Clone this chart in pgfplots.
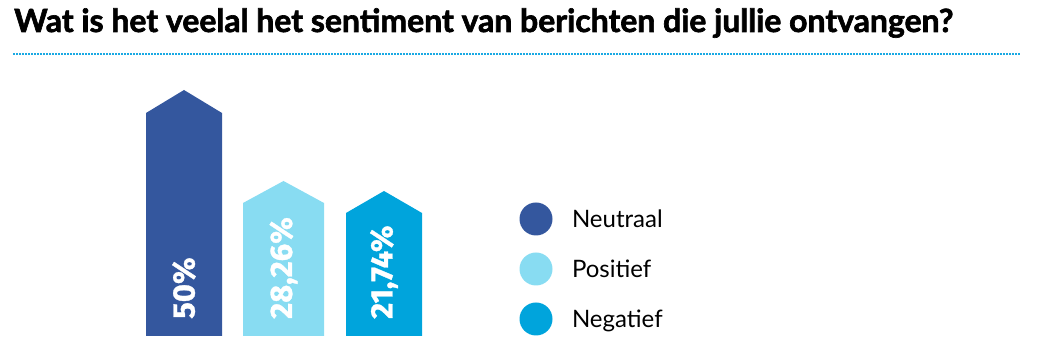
\documentclass[border=0pt]{standalone}
\usepackage{pgfplots}
\pgfplotsset{compat=1.18}
\usepackage{fontspec}
\setmainfont{Lato}
\newfontfamily\labfont{Fira Sans}
\definecolor{neutraal}{HTML}{34579E}
\definecolor{positief}{HTML}{88DCF2}
\definecolor{negatief}{HTML}{00A4DC}
\definecolor{dotline}{HTML}{1AA9E3}
\begin{document}
\begin{tikzpicture}
\begin{axis}[
  scale only axis, width=1037pt, height=353pt,
  xmin=0, xmax=1037, ymin=0, ymax=353,
  axis lines=none, clip=false,
  legend style={at={(axis cs:519.5,150.5)}, anchor=north west, draw=none, fill=none,
    inner sep=0pt, outer sep=0pt, row sep=17pt,
    font=\fontsize{24}{24}\selectfont,
    nodes={inner sep=0pt}},
  legend cell align=left,
  legend image code/.code={\fill[#1] (16.5pt,0.8pt) circle (16.5pt); \path (52.5pt,0pt);},
]
% bars drawn as arrow-shaped polygons (x: left, apex, right; y: base 17, shoulder, apex)
\addplot[fill=neutraal, draw=none] coordinates {(146,17) (146,240) (184,263) (222,240) (222,17)} -- cycle;
\addlegendentry{Neutraal}
\addplot[fill=positief, draw=none] coordinates {(243,17) (243,150) (283.5,172) (324,150) (324,17)} -- cycle;
\addlegendentry{Positief}
\addplot[fill=negatief, draw=none] coordinates {(346,17) (346,140) (384,162) (422,140) (422,17)} -- cycle;
\addlegendentry{Negatief}
% value labels
\node[rotate=90, anchor=west, inner sep=0pt, text=white, font=\labfont\bfseries\fontsize{31}{31}\selectfont\addfontfeatures{FakeBold=1}] at (axis cs:184,34) {50\%};
\node[rotate=90, anchor=west, inner sep=0pt, text=white, font=\labfont\bfseries\fontsize{31}{31}\selectfont\addfontfeatures{FakeBold=1}] at (axis cs:283.5,34) {28,26\%};
\node[rotate=90, anchor=west, inner sep=0pt, text=white, font=\labfont\bfseries\fontsize{31}{31}\selectfont\addfontfeatures{FakeBold=1}] at (axis cs:384,34) {21,74\%};
% title
\node[anchor=base west, inner sep=0pt] at (axis cs:14,321) {\resizebox{939pt}{!}{\bfseries\addfontfeatures{FakeBold=2}Wat is het veelal het sentiment van berichten die jullie ontvangen?}};
\draw[dotline, line width=1.6pt, dash pattern=on 1.5pt off 1.5pt] (axis cs:13,299) -- (axis cs:1021,299);
\end{axis}
\pgfresetboundingbox
\path (0,0) rectangle (1037pt,353pt);
\end{tikzpicture}
\end{document}
